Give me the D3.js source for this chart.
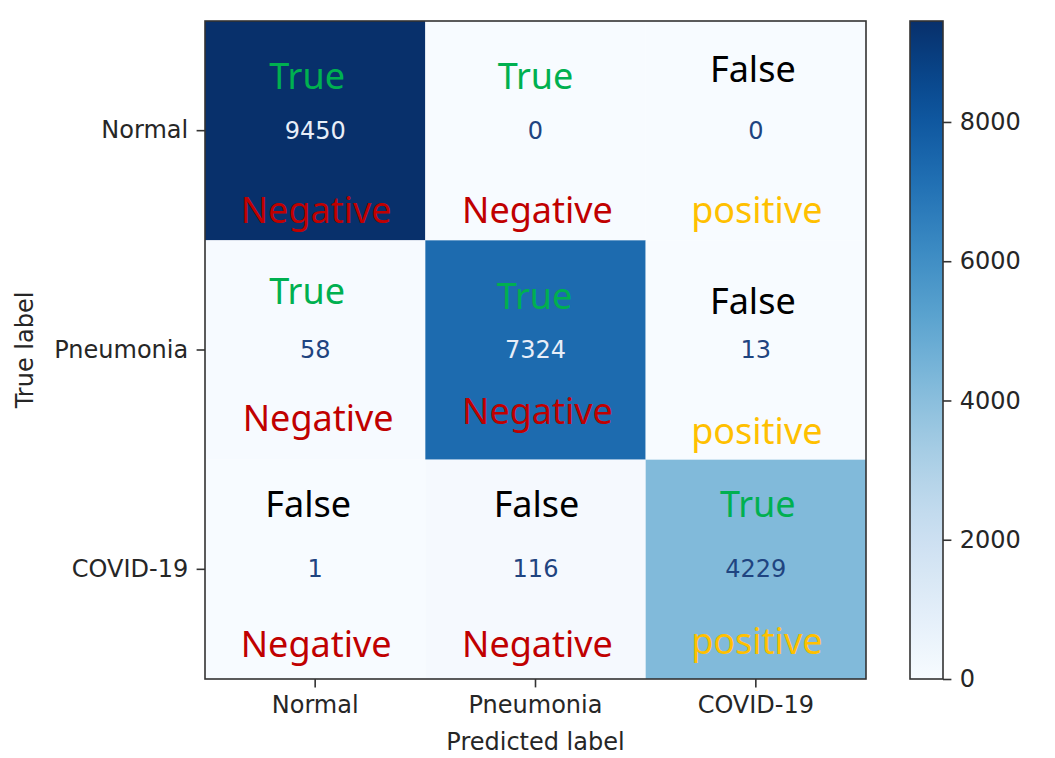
<!DOCTYPE html>
<html>
<head>
<meta charset="utf-8">
<script src="https://cdn.jsdelivr.net/npm/d3@7"></script>
<style>
  html, body { margin: 0; padding: 0; background: #ffffff; }
  svg { display: block; }
</style>
</head>
<body>
<svg id="chart" width="1055" height="758"></svg>
<script>
// ---- data ----
const trueLabels = ["Normal", "Pneumonia", "COVID-19"];
const predLabels = ["Normal", "Pneumonia", "COVID-19"];
const matrix = [
  [9450, 0, 0],
  [58, 7324, 13],
  [1, 116, 4229]
];
const colorbarTicks = [0, 2000, 4000, 6000, 8000];
// annotation words per cell: [top word, bottom word]
const topWords = [
  ["True", "True", "False"],
  ["True", "True", "False"],
  ["False", "False", "True"]
];
const bottomWords = [
  ["Negative", "Negative", "positive"],
  ["Negative", "Negative", "positive"],
  ["Negative", "Negative", "positive"]
];
const xTitle = "Predicted label";
const yTitle = "True label";

// ---- layout / style ----
const wordColors = { "True": "#00B050", "False": "#000000", "Negative": "#C00000", "positive": "#FFC000" };
// offsets of the overlay words from the cell centre [dx, dy] (baseline)
const topOffsets = [
  [[-8, -42], [0, -42], [-3, -49]],
  [[-8, -46.5], [-1, -41.5], [-3, -36.5]],
  [[-7, -52.5], [1, -52.5], [2, -52.5]]
];
const bottomOffsets = [
  [[1, 92], [2, 92], [1, 92]],
  [[3, 80.5], [2, 73.5], [1, 93.5]],
  [[1, 87.5], [2, 87.5], [1, 84.5]]
];

const plot = { left: 205, right: 866, top: 21, bottom: 679 };
const cbar = { left: 910, right: 943, top: 21, bottom: 679 };
const textColor = "#262626";
const mplFont = "'DejaVu Sans', sans-serif";
const wordFont = "'Noto Sans', 'Open Sans', sans-serif";

const svg = d3.select("#chart");

const x = d3.scaleBand().domain(predLabels).range([plot.left, plot.right]);
const y = d3.scaleBand().domain(trueLabels).range([plot.top, plot.bottom]);
const vmax = d3.max(matrix.flat());
const vmin = d3.min(matrix.flat());
const color = d3.scaleSequential(d3.interpolateBlues).domain([0, vmax]);

const cells = [];
matrix.forEach((row, i) => row.forEach((v, j) => cells.push({ i, j, v })));

// cells
svg.append("g").selectAll("rect").data(cells).join("rect")
  .attr("x", d => x(predLabels[d.j]))
  .attr("y", d => y(trueLabels[d.i]))
  .attr("width", x.bandwidth())
  .attr("height", y.bandwidth())
  .attr("fill", d => color(d.v));

// numbers
const thresh = (vmax + vmin) / 2;
svg.append("g").selectAll("text").data(cells).join("text")
  .attr("x", d => x(predLabels[d.j]) + x.bandwidth() / 2)
  .attr("y", d => y(trueLabels[d.i]) + y.bandwidth() / 2)
  .attr("dy", "0.34em")
  .attr("text-anchor", "middle")
  .attr("font-family", mplFont)
  .attr("font-size", 24)
  .attr("fill", d => d.v < thresh ? "#1f4480" : "#e8eef8")
  .text(d => d.v);

// overlay words
function addWords(words, offsets) {
  svg.append("g").selectAll("text").data(cells).join("text")
    .attr("x", d => x(predLabels[d.j]) + x.bandwidth() / 2 + offsets[d.i][d.j][0])
    .attr("y", d => y(trueLabels[d.i]) + y.bandwidth() / 2 + offsets[d.i][d.j][1])
    .attr("text-anchor", "middle")
    .attr("font-family", wordFont)
    .attr("font-size", 36)
    .attr("fill", d => wordColors[words[d.i][d.j]])
    .text(d => words[d.i][d.j]);
}
addWords(topWords, topOffsets);
addWords(bottomWords, bottomOffsets);

// frame
svg.append("rect")
  .attr("x", plot.left).attr("y", plot.top)
  .attr("width", plot.right - plot.left).attr("height", plot.bottom - plot.top)
  .attr("fill", "none").attr("stroke", "#333").attr("stroke-width", 1.6);

// axes
const xAxis = d3.axisBottom(x).tickSize(8.4).tickPadding(8.4);
const gx = svg.append("g").attr("transform", `translate(0,${plot.bottom})`).call(xAxis);
const yAxis = d3.axisLeft(y).tickSize(8.4).tickPadding(8.4);
const gy = svg.append("g").attr("transform", `translate(${plot.left},0)`).call(yAxis);
[gx, gy].forEach(g => {
  g.select(".domain").remove();
  g.selectAll(".tick line").attr("stroke", "#333").attr("stroke-width", 1.6);
  g.selectAll(".tick text").attr("font-family", mplFont).attr("font-size", 24).attr("fill", textColor);
});

svg.append("text")
  .attr("x", (plot.left + plot.right) / 2).attr("y", 750)
  .attr("text-anchor", "middle")
  .attr("font-family", mplFont).attr("font-size", 24).attr("fill", textColor)
  .text(xTitle);
svg.append("text")
  .attr("transform", `translate(33,${(plot.top + plot.bottom) / 2}) rotate(-90)`)
  .attr("text-anchor", "middle")
  .attr("font-family", mplFont).attr("font-size", 24).attr("fill", textColor)
  .text(yTitle);

// colorbar
const defs = svg.append("defs");
const grad = defs.append("linearGradient").attr("id", "cbgrad")
  .attr("x1", 0).attr("y1", 1).attr("x2", 0).attr("y2", 0);
d3.range(0, 1.0001, 0.05).forEach(t => {
  grad.append("stop").attr("offset", t).attr("stop-color", d3.interpolateBlues(t));
});
const cy = d3.scaleLinear().domain([0, vmax]).range([cbar.bottom, cbar.top]);
svg.append("rect")
  .attr("x", cbar.left).attr("y", cbar.top)
  .attr("width", cbar.right - cbar.left).attr("height", cbar.bottom - cbar.top)
  .attr("fill", "url(#cbgrad)").attr("stroke", "#333").attr("stroke-width", 1.6);
const cAxis = d3.axisRight(cy).tickValues(colorbarTicks).tickFormat(d3.format("d")).tickSize(8.4).tickPadding(8.4);
const gc = svg.append("g").attr("transform", `translate(${cbar.right},0)`).call(cAxis);
gc.select(".domain").remove();
gc.selectAll(".tick line").attr("stroke", "#333").attr("stroke-width", 1.6);
gc.selectAll(".tick text").attr("font-family", mplFont).attr("font-size", 24).attr("fill", textColor);
</script>
</body>
</html>
